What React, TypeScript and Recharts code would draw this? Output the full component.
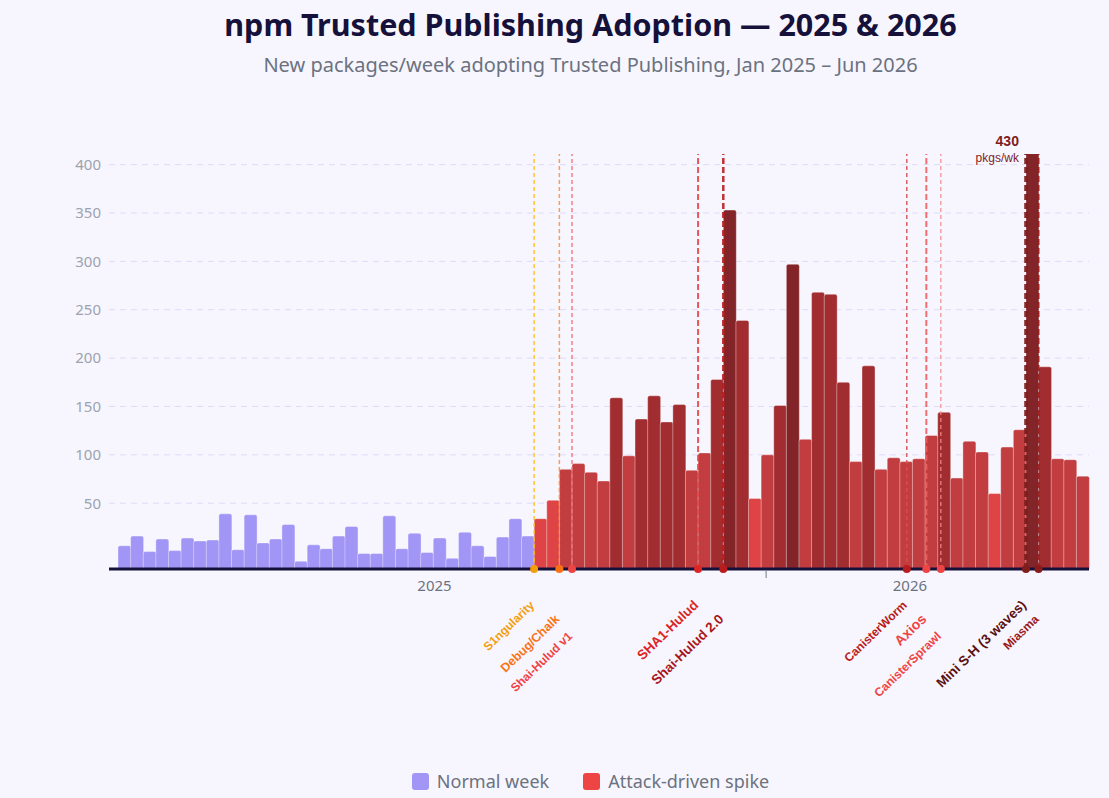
import { BarChart, Bar, Cell, XAxis, YAxis, CartesianGrid, ReferenceLine, ReferenceDot } from 'recharts';

// weekly counts of new packages adopting Trusted Publishing
const normalWeeks = [6, 16, 0, 13, 1, 14, 11, 12, 39, 2, 38, 9, 13, 28, -10, 7, 3, 16, 26, -2, -2, 37, 3, 19, -1, 14, -7, 20, 6, -5, 15, 34, 16];
const attackWeeks = [
  34, 53, 85, 91, 82, 73, 159, 99, 137, 161, 134, 152, 84, 102, 178, 353, 239, 55, 100, 151, 297, 116,
  268, 266, 175, 93, 192, 85, 97, 93, 96, 120, 144, 76, 114, 103, 60, 108, 126, 430, 191, 96, 95, 78,
];
const values = [...normalWeeks, ...attackWeeks];

const START = Date.UTC(2025, 0, 6);
const weeks = values.map((_, i) => new Date(START + i * 7 * 86400000).toISOString().slice(0, 10));

const yTicks = [50, 100, 150, 200, 250, 300, 350, 400];
const yearTicks = [25.1, 51.4, 62.8];
const yearLabels: Record<string, string> = { '25.1': '2025', '62.8': '2026' };

// attack events: name + position in weeks from the first bar
const eventNames = ['S1ngularity', 'Debug/Chalk', 'Shai-Hulud v1', 'SHA1-Hulud', 'Shai-Hulud 2.0', 'CanisterWorm', 'Axios', 'CanisterSprawl', 'Mini S-H (3 waves)', 'Miasma'];
const eventWeeks = [33, 35, 36, 46, 48, 62.55, 64.1, 65.25, 72, 73];

const Y_MIN = -18;
const Y_MAX = 411;

type EvStyle = { text: string; line: string; dot: string; w: number; dash: string; size: number; row: number };
const evStyles: Record<string, EvStyle> = {
  'S1ngularity': { text: '#f59e0b', line: '#fbbf24', dot: '#f59e0b', w: 1.5, dash: '4 3', size: 12, row: 0 },
  'Debug/Chalk': { text: '#f97316', line: '#fb923c', dot: '#f97316', w: 1.5, dash: '4 3', size: 12.5, row: 1 },
  'Shai-Hulud v1': { text: '#ef4444', line: '#f87171', dot: '#ef4444', w: 1.5, dash: '4 3', size: 12, row: 2 },
  'SHA1-Hulud': { text: '#dc2626', line: '#e04848', dot: '#dc2626', w: 2, dash: '6 3', size: 13.5, row: 0 },
  'Shai-Hulud 2.0': { text: '#a8161b', line: '#b91c1c', dot: '#b91c1c', w: 2.5, dash: '6 3', size: 13.5, row: 1 },
  'CanisterWorm': { text: '#b91c1c', line: '#d55050', dot: '#b91c1c', w: 1.5, dash: '4 3', size: 12, row: 0 },
  'Axios': { text: '#ef4444', line: '#f06060', dot: '#ef4444', w: 2, dash: '6 3', size: 14, row: 1 },
  'CanisterSprawl': { text: '#ef4444', line: '#f58888', dot: '#ef4444', w: 1.3, dash: '4 3', size: 12, row: 2 },
  'Mini S-H (3 waves)': { text: '#5c1010', line: '#7a1a1a', dot: '#7f1d1d', w: 3.5, dash: '6 3', size: 13.5, row: 0 },
  'Miasma': { text: '#991b1b', line: '#991b1b', dot: '#8b1a1a', w: 2, dash: '6 3', size: 12, row: 1 },
};
const rowOffsets = [37, 51, 68];

const data = values.map((v, i) => ({ week: weeks[i], pos: i + 0.5, span: [Y_MIN, v], value: v, attack: i >= normalWeeks.length }));
const peakIdx = values.indexOf(Math.max(...values));

function barColor(v: number, attack: boolean) {
  if (!attack) return '#a195f5';
  if (v < 65) return '#de4446';
  if (v < 130) return '#c23d40';
  if (v < 290) return '#a22d30';
  return '#832528';
}

const YearTick = (props: any) => {
  const { x, y, payload } = props;
  const label = yearLabels[String(payload.value)];
  if (!label) {
    return <line x1={x} x2={x} y1={y - 6} y2={y + 1} stroke="#9ca3af" strokeWidth={1.5} />;
  }
  return (
    <text x={x} y={y + 14} textAnchor="middle" fill="#6b7280" fontSize={15}>
      {label}
    </text>
  );
};

const EventLabel = ({ viewBox, name }: any) => {
  const s = evStyles[name];
  const x = viewBox.x + 1;
  const y = viewBox.y + viewBox.height + rowOffsets[s.row];
  return (
    <text
      x={x}
      y={y}
      transform={`rotate(-44 ${x} ${y})`}
      textAnchor="end"
      fill={s.text}
      fontSize={s.size}
      fontWeight="bold"
      fontFamily="'Liberation Sans', Arial, sans-serif"
    >
      {name}
    </text>
  );
};

const PeakLabel = ({ viewBox }: any) => {
  const x = viewBox.x - 7;
  const y = viewBox.y;
  return (
    <g fill="#7f1d1d" fontFamily="'Liberation Sans', Arial, sans-serif" textAnchor="end">
      <text x={x} y={y - 8} fontSize={14} fontWeight="bold">{values[peakIdx]}</text>
      <text x={x} y={y + 8} fontSize={12}>pkgs/wk</text>
    </g>
  );
};

export default function App() {
  return (
    <div style={{ position: 'absolute', left: 0, top: 0, width: 1109, height: 798, background: '#f7f6fe', fontFamily: "'Noto Sans', sans-serif", overflow: 'hidden' }}>
      <div style={{ position: 'absolute', left: 72, width: 1037, top: 9, textAlign: 'center', fontSize: 30.5, lineHeight: '31px', fontWeight: 700, color: '#15113a' }}>
        npm Trusted Publishing Adoption — 2025 &amp; 2026
      </div>
      <div style={{ position: 'absolute', left: 72, width: 1037, top: 55, textAlign: 'center', fontSize: 20, lineHeight: '20px', color: '#6b7280' }}>
        New packages/week adopting Trusted Publishing, Jan 2025 – Jun 2026
      </div>

      <div style={{ position: 'absolute', left: 0, top: 0 }}>
        <BarChart width={1109} height={798} data={data} margin={{ top: 154, right: 20, bottom: 199, left: 49 }} barCategoryGap={0} style={{ fontFamily: "'Noto Sans', sans-serif" }}>
          <CartesianGrid xAxisId="t" vertical={false} stroke="#dedbf7" strokeDasharray="6 5" syncWithTicks />
          <XAxis xAxisId="cat" dataKey="week" hide height={0} padding={{ left: 9, right: 0 }} />
          <XAxis
            xAxisId="t"
            dataKey="pos"
            type="number"
            height={30}
            domain={[0, values.length]}
            allowDataOverflow
            padding={{ left: 9, right: 0 }}
            ticks={yearTicks}
            interval={0}
            tick={<YearTick />}
            tickLine={false}
            axisLine={{ stroke: '#15113a', strokeWidth: 3 }}
          />
          <YAxis
            width={60}
            domain={[Y_MIN, Y_MAX]}
            allowDataOverflow
            ticks={yTicks}
            axisLine={false}
            tickLine={false}
            tick={{ fill: '#9ca3af', fontSize: 15 }}
          />
          <Bar xAxisId="cat" dataKey="span" isAnimationActive={false} stroke="rgba(255,255,255,0.35)" strokeWidth={1} radius={[2, 2, 0, 0]}>
            {data.map((d, i) => (
              <Cell key={i} fill={barColor(d.value, d.attack)} />
            ))}
          </Bar>
          {eventNames.map((name, i) => (
            <ReferenceLine
              key={name}
              xAxisId="t"
              x={eventWeeks[i]}
              stroke={evStyles[name].line}
              strokeWidth={evStyles[name].w}
              strokeDasharray={evStyles[name].dash}
              strokeOpacity={0.9}
              label={(p: any) => <EventLabel {...p} name={name} />}
            />
          ))}
          {eventNames.map((name, i) => (
            <ReferenceDot key={'d' + name} xAxisId="t" x={eventWeeks[i]} y={Y_MIN} r={4} fill={evStyles[name].dot} stroke="none" ifOverflow="visible" />
          ))}
          <ReferenceDot xAxisId="t" x={peakIdx} y={Y_MAX} r={0} fill="none" stroke="none" ifOverflow="visible" label={(p: any) => <PeakLabel {...p} />} />
        </BarChart>
      </div>

      <div style={{ position: 'absolute', left: 72, width: 1037, top: 772, display: 'flex', justifyContent: 'center', gap: 34, fontSize: 18, lineHeight: '18px', color: '#6b7280' }}>
        <div style={{ display: 'flex', alignItems: 'center', gap: 8 }}>
          <span style={{ width: 17, height: 17, borderRadius: 3, background: '#a195f5', display: 'inline-block' }} />
          Normal week
        </div>
        <div style={{ display: 'flex', alignItems: 'center', gap: 8 }}>
          <span style={{ width: 17, height: 17, borderRadius: 3, background: '#ef4444', display: 'inline-block' }} />
          Attack-driven spike
        </div>
      </div>
    </div>
  );
}
